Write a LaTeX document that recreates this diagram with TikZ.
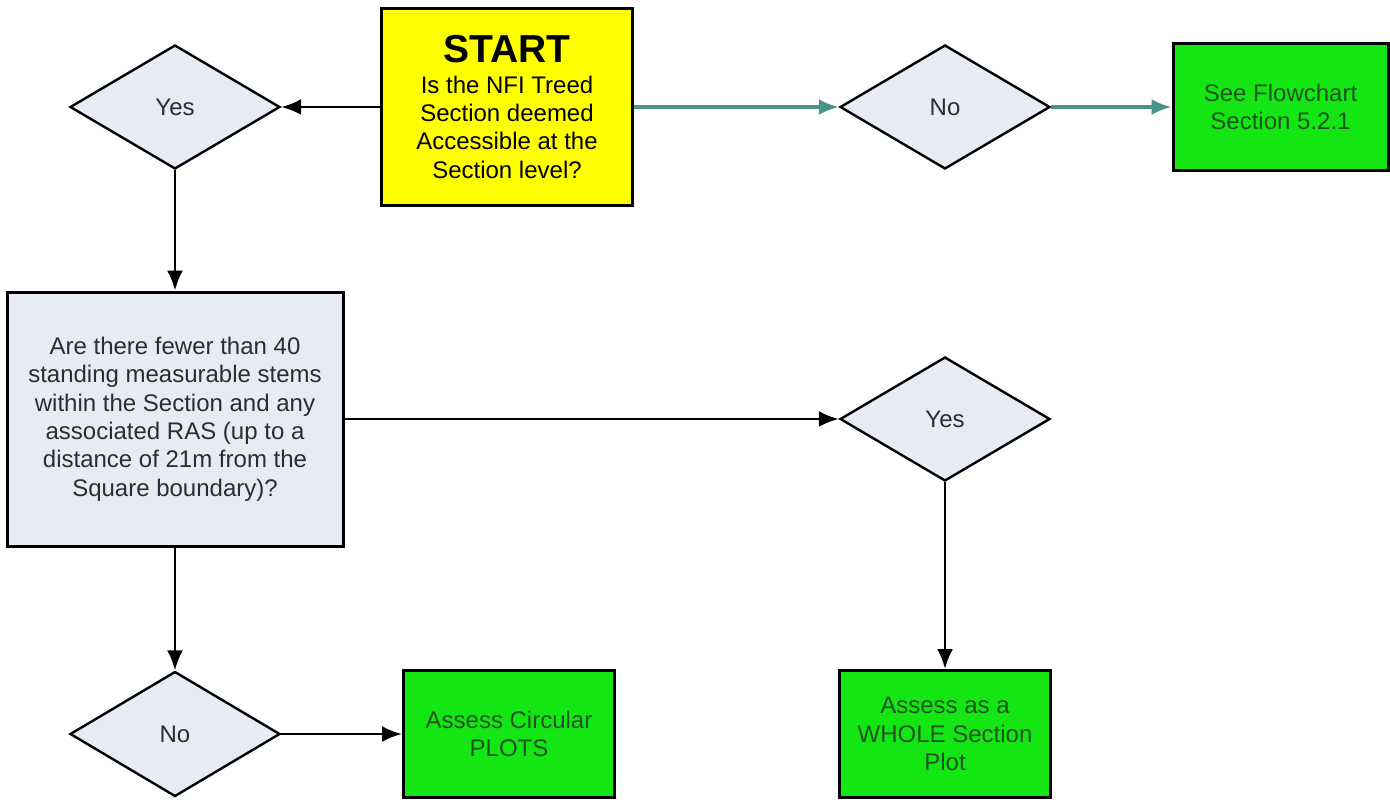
\documentclass[tikz,border=0pt]{standalone}
\usepackage{fontspec}
\setmainfont{Liberation Sans}
\usepackage{tikz}
\usetikzlibrary{positioning,arrows.meta,shapes.geometric}
\definecolor{startyellow}{RGB}{255,255,0}
\definecolor{boxgreen}{RGB}{20,230,20}
\definecolor{askgrey}{RGB}{231,235,245}
\definecolor{flowteal}{RGB}{72,148,136}
\definecolor{greentext}{RGB}{30,85,30}
\definecolor{asktext}{RGB}{45,45,45}

\begin{document}
\begin{tikzpicture}[x = 1pt, y = 1pt, >= {Latex[length=10pt, width=8pt]}, on grid, every text node part/.style = {align = center}, font = \fontsize{12}{14.2}\selectfont,
	decision/.style = {diamond, draw, line width = 1.2pt, fill = askgrey, text = asktext, minimum width = 105pt, minimum height = 62pt, inner sep = 0pt},
	question/.style = {rectangle, draw, line width = 1.5pt, fill = askgrey, text = asktext, minimum width = 168pt, minimum height = 127pt},
	outcome/.style = {rectangle, draw, line width = 1.5pt, fill = boxgreen, text = greentext, minimum width = 105.5pt, minimum height = 63.5pt},
	startbox/.style = {rectangle, draw, line width = 1.5pt, fill = startyellow, minimum width = 125.5pt, minimum height = 98.5pt}]
	\useasboundingbox (0,0) rectangle (695,-401.5);
	\node[decision] (yes1) at (87.5,-53.5) {Yes};
	\node[startbox] (start) [right = 166pt of yes1] {{\fontsize{19.5}{22}\selectfont\bfseries START}\\[1pt] Is the NFI Treed\\ Section deemed\\ Accessible at the\\ Section level?};
	\node[decision] (no1) [right = 385pt of yes1] {No};
	\node[outcome, minimum width = 107.5pt] (see) [right = 167.75pt of no1] {See Flowchart\\ Section 5.2.1};
	\node[question] (ask) [below = 156pt of yes1] {Are there fewer than 40\\ standing measurable stems\\ within the Section and any\\ associated RAS (up to a\\ distance of 21m from the\\ Square boundary)?};
	\node[decision] (yes2) [below = 156pt of no1] {Yes};
	\node[decision, minimum height = 62.5pt] (no2) [below = 313.5pt of yes1] {No};
	\node[outcome] (circ) [right = 167pt of no2] {Assess Circular\\ PLOTS};
	\node[outcome] (whole) [below = 313.5pt of no1] {Assess as a\\ WHOLE Section\\ Plot};
	\path[->, line width = 1.3pt] (start) edge (yes1);
	\path[->, line width = 1.3pt] (yes1) edge (ask);
	\path[->, line width = 1.3pt] (ask) edge (yes2);
	\path[->, line width = 1.3pt] (yes2) edge (whole);
	\path[->, line width = 1.3pt] (ask) edge (no2);
	\path[->, line width = 1.3pt] (no2) edge (circ);
	\path[->, flowteal, line width = 1.6pt] (start) edge (no1);
	\path[->, flowteal, line width = 1.6pt] (no1) edge (see);
\end{tikzpicture}
\end{document}
